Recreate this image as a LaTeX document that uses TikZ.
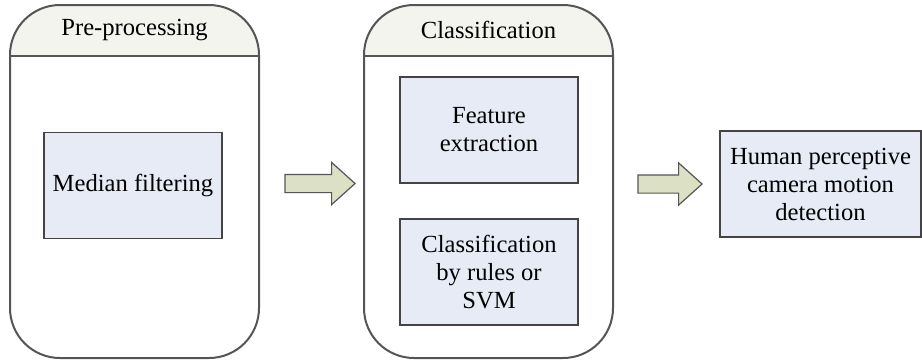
\documentclass[tikz,border=0pt]{standalone}
\usepackage{fontspec}
\setmainfont{Liberation Serif}
\usepackage{tikz}
\usetikzlibrary{positioning,shapes.arrows}

\definecolor{headgray}{RGB}{243,244,237}
\definecolor{boxblue}{RGB}{230,235,246}
\definecolor{arrowgreen}{RGB}{220,224,196}
\definecolor{edgegray}{RGB}{85,85,85}

\tikzset{
  stage/.style={draw=edgegray,line width=1pt,rounded corners=25pt,
    minimum width=124.5pt,minimum height=176.5pt,inner sep=0pt,
    path picture={
      \fill[headgray,sharp corners] (path picture bounding box.north west) rectangle
        ([yshift=-25.5pt]path picture bounding box.north east);
      \draw[edgegray,line width=1pt] ([yshift=-25.5pt]path picture bounding box.north west) --
        ([yshift=-25.5pt]path picture bounding box.north east);}},
  stepbox/.style={draw=edgegray!80!black,line width=0.8pt,fill=boxblue,
    align=center,inner sep=0pt,minimum width=89pt,minimum height=53pt},
  flow/.style={single arrow,draw=edgegray,line width=0.6pt,fill=arrowgreen,
    inner xsep=0pt,inner ysep=4.25pt,single arrow head extend=6pt,
    single arrow tip angle=84,minimum height=36pt},
}

\begin{document}
\begin{tikzpicture}[font=\fontsize{12.3}{14}\selectfont,x=0.5pt,y=-0.5pt]
\useasboundingbox (0,0) rectangle (922,360);
% ================= Stage 1: Pre-processing =================
\node[stage] (pre) at (134.5,181.5) {};
\node (pretitle) at (134.5,30) {Pre-processing};
\node[stepbox] (median) at (133,185.5) {Median filtering};

% ================= Stage 2: Classification =================
\node[stage] (cls) at (488.5,181.5) {};
\node (clstitle) at (488.5,30) {Classification};
\node[stepbox] (feature) at (489,130) {Feature\\extraction};
\node[stepbox] (rules) at (489,272) {Classification\\by rules or\\SVM};

% ================= Output =================
\node[stepbox,minimum width=100.5pt] (output) at (820.5,184)
  {Human perceptive\\camera motion\\detection};

% ================= Block arrows =================
\node[flow,minimum height=35pt] (arrowa) at (315,183.5) {};
\node[flow,minimum height=32pt] (arrowb) at (665,184) {};
\end{tikzpicture}
\end{document}
